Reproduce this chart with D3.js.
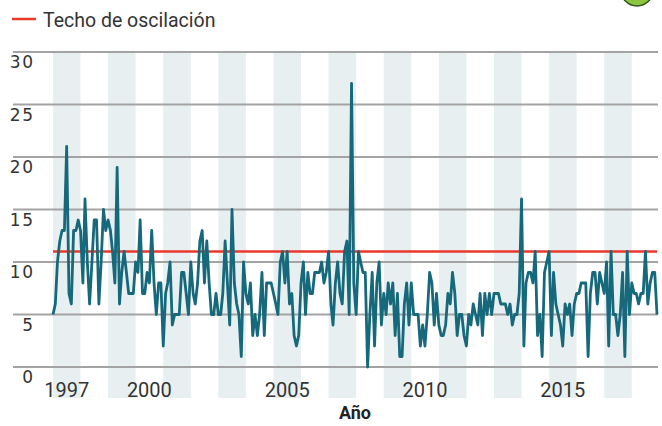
<!DOCTYPE html>
<html>
<head>
<meta charset="UTF-8">
<title>Techo de oscilación</title>
<script src="https://cdn.jsdelivr.net/npm/d3@7"></script>
<style>
body {
    margin: 0;
    background: #fff;
}

.grid line {
    stroke: #a3a3a3;
    stroke-width: 2px;
}

.band {
    fill: #e7eff1;
}

.y-label {
    font-family: "DejaVu Sans", sans-serif;
    font-size: 17px;
    letter-spacing: 1.5px;
    fill: #333;
}

.x-label {
    font-family: Roboto, sans-serif;
    font-size: 20px;
    fill: #333;
}

.axis-title {
    font-family: Roboto, sans-serif;
    font-size: 18px;
    font-weight: bold;
    fill: #222;
}

.legend-text {
    font-family: Roboto, sans-serif;
    font-size: 19.5px;
    fill: #333;
}

.series {
    fill: none;
    stroke: #16687b;
    stroke-width: 2.8px;
    stroke-linejoin: round;
}

.ceiling {
    stroke: #e8392b;
    stroke-width: 2.5px;
}
</style>
</head>
<body>
<div class="chart"></div>
<script>

let width = 662, height = 426;

// monthly values, one row per year (1997 .. 2018)
const firstYear = 1997;
const monthly = [
    [5, 6, 10, 12, 13, 13, 21, 7, 6, 13, 13, 14],      // 1997
    [13, 8, 16, 10, 6, 10, 14, 14, 6, 10, 15, 13],     // 1998
    [14, 13, 11, 8, 19, 6, 9, 11, 9, 7, 7, 7],         // 1999
    [10, 9, 14, 7, 7, 9, 8, 13, 8, 5, 8, 8],           // 2000
    [2, 7, 8, 10, 4, 5, 5, 5, 9, 9, 7, 5],             // 2001
    [10, 7, 6, 8, 12, 13, 8, 12, 8, 5, 5, 7],          // 2002
    [5, 5, 7, 12, 8, 4, 15, 8, 6, 5, 1, 10],           // 2003
    [7, 6, 8, 3, 5, 3, 5, 9, 3, 8, 8, 8],              // 2004
    [7, 6, 5, 10, 11, 8, 11, 6, 7, 3, 2, 3],           // 2005
    [8, 10, 5, 9, 7, 7, 9, 9, 9, 10, 8, 9],            // 2006
    [11, 6, 4, 8, 10, 7, 6, 11, 12, 5, 27, 8],         // 2007
    [5, 11, 10, 9, 9, 0, 5, 9, 2, 8, 10, 4],           // 2008
    [7, 5, 8, 6, 8, 3, 7, 1, 1, 6, 8, 4],              // 2009
    [8, 5, 5, 5, 2, 4, 2, 5, 9, 8, 4, 7],              // 2010
    [4, 3, 3, 4, 7, 6, 9, 7, 3, 5, 5, 3],              // 2011
    [2, 5, 4, 6, 5, 4, 7, 3, 7, 5, 7, 5],              // 2012
    [7, 7, 7, 6, 6, 6, 5, 6, 4, 5, 5, 7],              // 2013
    [16, 2, 8, 9, 9, 8, 11, 3, 5, 1, 9, 10],           // 2014
    [11, 3, 9, 6, 5, 4, 2, 6, 5, 6, 3, 6],             // 2015
    [7, 7, 8, 8, 8, 1, 7, 9, 9, 6, 9, 8],              // 2016
    [7, 10, 2, 11, 5, 5, 3, 5, 9, 1, 11, 5],           // 2017
    [8, 7, 7, 6, 7, 7, 11, 6, 8, 9, 9, 5]              // 2018
];

const ceilingValue = 11;
const yTicks = [0, 5, 10, 15, 20, 25, 30];
const xTickYears = [1997, 2000, 2005, 2010, 2015];
const legendLabel = 'Techo de oscilación';
const xTitle = 'Año';

let data = [];
monthly.forEach(function (row, yi) {
    row.forEach(function (v, m) {
        data.push({date: new Date(firstYear + yi, m, 1), value: v});
    });
});

let lastYear = firstYear + monthly.length - 1;

let svg = d3.select('.chart').append('svg')
    .attr('width', width)
    .attr('height', height);

let xScale = d3.scaleTime()
    .domain([new Date(firstYear, 0, 1), new Date(lastYear, 11, 1)])
    .range([53, 657]);

let yScale = d3.scaleLinear()
    .domain([0, 30])
    .range([367, 52]);

// alternating year bands
let bandYears = d3.range(firstYear, lastYear + 1, 2);
svg.append('g')
    .selectAll('rect')
    .data(bandYears)
    .enter()
    .append('rect')
    .attr('class', 'band')
    .attr('x', d => xScale(new Date(d, 0, 1)))
    .attr('width', d => xScale(new Date(d + 1, 0, 1)) - xScale(new Date(d, 0, 1)))
    .attr('y', 52)
    .attr('height', 398 - 52);

// horizontal grid
let grid = svg.append('g').attr('class', 'grid');
grid.selectAll('line')
    .data(yTicks)
    .enter()
    .append('line')
    .attr('x1', 13)
    .attr('x2', 658)
    .attr('y1', d => yScale(d))
    .attr('y2', d => yScale(d));

svg.append('g')
    .selectAll('text')
    .data(yTicks)
    .enter()
    .append('text')
    .attr('class', 'y-label')
    .attr('x', 34.5)
    .attr('y', d => yScale(d) + 16)
    .attr('text-anchor', 'end')
    .text(d => d);

svg.append('g')
    .selectAll('text')
    .data(xTickYears)
    .enter()
    .append('text')
    .attr('class', 'x-label')
    .attr('x', d => xScale(new Date(d, 6, 1)))
    .attr('y', 396.5)
    .attr('text-anchor', 'middle')
    .text(d => d);

svg.append('text')
    .attr('class', 'axis-title')
    .attr('x', 355)
    .attr('y', 419)
    .attr('text-anchor', 'middle')
    .text(xTitle);

// oscillation ceiling
svg.append('line')
    .attr('class', 'ceiling')
    .attr('x1', xScale.range()[0])
    .attr('x2', xScale.range()[1])
    .attr('y1', yScale(ceilingValue))
    .attr('y2', yScale(ceilingValue));

let line = d3.line()
    .x(d => xScale(d.date))
    .y(d => yScale(d.value));

svg.append('path')
    .attr('class', 'series')
    .attr('d', line(data));

// legend
svg.append('line')
    .attr('class', 'ceiling')
    .attr('x1', 12)
    .attr('x2', 36)
    .attr('y1', 19)
    .attr('y2', 19);

svg.append('text')
    .attr('class', 'legend-text')
    .attr('x', 43)
    .attr('y', 27)
    .text(legendLabel);

// badge cut by the top edge
svg.append('circle')
    .attr('cx', 637)
    .attr('cy', -10)
    .attr('r', 16)
    .attr('fill', '#8cc63e')
    .attr('stroke', '#2f4f1f')
    .attr('stroke-width', 1.5);

</script>
</body>
</html>
